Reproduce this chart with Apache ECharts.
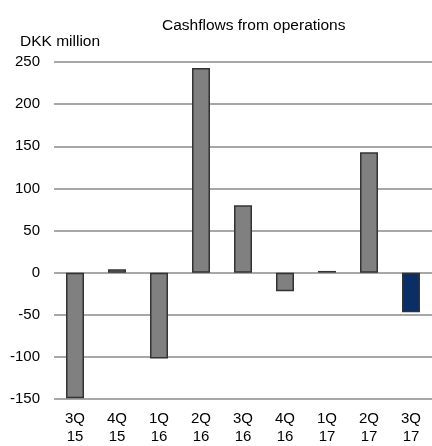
<!DOCTYPE html>
<html>
<head>
<meta charset="utf-8">
<script src="https://cdn.jsdelivr.net/npm/echarts@6/dist/echarts.min.js"></script>
<style>
html,body{margin:0;padding:0;background:#fff;}
#c{width:432px;height:446px;}
</style>
</head>
<body>
<div id="c"></div>
<script>
var categories = ['3Q\n15','4Q\n15','1Q\n16','2Q\n16','3Q\n16','4Q\n16','1Q\n17','2Q\n17','3Q\n17'];
var values = [-149, 4, -102, 243, 80, -22, 2, 143, -47];
var highlightIndex = 8;
var yTicks = {min: -150, max: 250, interval: 50};

var chart = echarts.init(document.getElementById('c'), null, {renderer: 'canvas'});
var font = 'Liberation Sans, Arial, sans-serif';
chart.setOption({
  animation: false,
  title: [
    {text: 'Cashflows from operations', left: 157, top: 13,
     textStyle: {fontFamily: font, fontSize: 15.5, fontWeight: 'normal', color: '#000'}},
    {text: 'DKK million', left: 15, top: 29,
     textStyle: {fontFamily: font, fontSize: 15.5, fontWeight: 'normal', color: '#000'}}
  ],
  grid: {left: 54, right: -2, top: 62, bottom: 44, containLabel: false},
  xAxis: {
    type: 'category',
    data: categories,
    axisLine: {show: false},
    axisTick: {show: false},
    axisLabel: {fontFamily: font, fontSize: 15, color: '#000', margin: 11, lineHeight: 18, interval: 0}
  },
  yAxis: {
    type: 'value',
    min: yTicks.min, max: yTicks.max, interval: yTicks.interval,
    axisLine: {show: false},
    axisTick: {show: false},
    axisLabel: {fontFamily: font, fontSize: 15, color: '#000', margin: 14},
    splitLine: {lineStyle: {color: '#8a8a8a', width: 1.5}}
  },
  series: [{
    type: 'bar',
    barWidth: 18,
    data: values.map(function(v, i){
      return {value: v, itemStyle: {color: i === highlightIndex ? '#0a2f66' : '#808080'}};
    }),
    itemStyle: {borderColor: '#333', borderWidth: 1.5}
  }]
});
</script>
</body>
</html>
